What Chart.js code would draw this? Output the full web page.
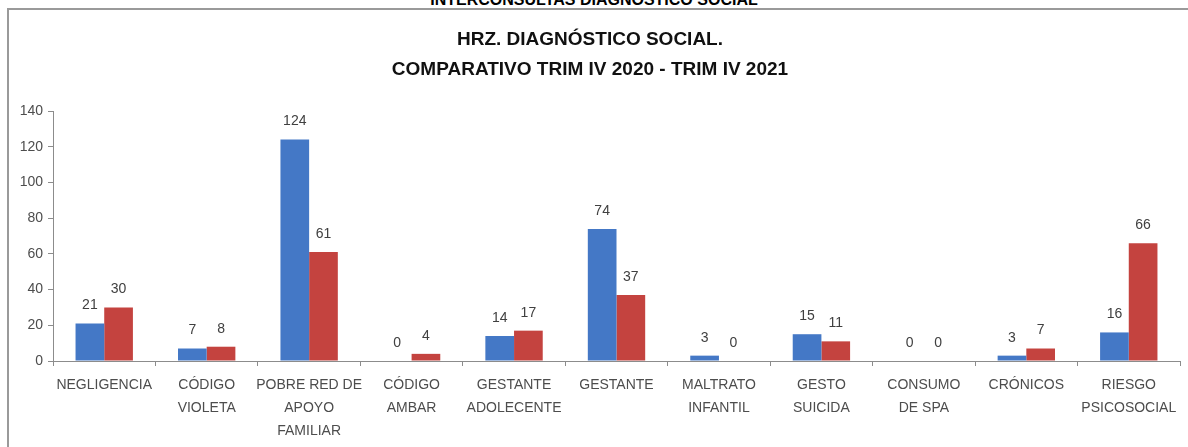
<!DOCTYPE html>
<html lang="es">
<head>
<meta charset="utf-8">
<title>HRZ. Diagnóstico Social</title>
<script src="https://cdn.jsdelivr.net/npm/chart.js@4.4.1/dist/chart.umd.min.js"></script>
<style>
  html, body { margin: 0; padding: 0; background: #fff; overflow: hidden; }
  .page { position: relative; width: 1188px; height: 447px; overflow: hidden; }
  .top-heading {
    position: absolute; left: 0; top: -8px; width: 1188px;
    text-align: center; font: bold 16px/16px "Liberation Sans", Arial, sans-serif; color: #000;
  }
  .frame {
    position: absolute; left: 7px; top: 8px; width: 1200px; height: 460px;
    border-left: 2px solid #9a9a9a; border-top: 2px solid #9a9a9a;
  }
  #diagChart { position: absolute; left: 0; top: 0; }
</style>
</head>
<body>
<div class="page">
  <div class="top-heading">INTERCONSULTAS DIAGNÓSTICO SOCIAL</div>
  <div class="frame"></div>
  <canvas id="diagChart" width="1188" height="447"></canvas>
</div>
<script>
  // categories and values per quarter
  const categorias = [
    'NEGLIGENCIA',
    ['CÓDIGO', 'VIOLETA'],
    ['POBRE RED DE', 'APOYO', 'FAMILIAR'],
    ['CÓDIGO', 'AMBAR'],
    ['GESTANTE', 'ADOLECENTE'],
    'GESTANTE',
    ['MALTRATO', 'INFANTIL'],
    ['GESTO', 'SUICIDA'],
    ['CONSUMO', 'DE SPA'],
    'CRÓNICOS',
    ['RIESGO', 'PSICOSOCIAL']
  ];
  const trim2020 = [21, 7, 124, 0, 14, 74, 3, 15, 0, 3, 16];
  const trim2021 = [30, 8, 61, 4, 17, 37, 0, 11, 0, 7, 66];
  const yTicks = [0, 20, 40, 60, 80, 100, 120, 140];

  const FONT = '"Liberation Sans", Arial, sans-serif';

  // writes the value above every bar
  const valueLabels = {
    id: 'valueLabels',
    afterDatasetsDraw(chart) {
      const ctx = chart.ctx;
      ctx.save();
      ctx.font = '14px ' + FONT;
      ctx.fillStyle = '#404040';
      ctx.textAlign = 'center';
      ctx.textBaseline = 'middle';
      chart.data.datasets.forEach((ds, i) => {
        chart.getDatasetMeta(i).data.forEach((bar, j) => {
          ctx.fillText(ds.data[j], bar.x, bar.y - 18);
        });
      });
      ctx.restore();
    }
  };

  const config = {
    type: 'bar',
    data: {
      labels: categorias,
      datasets: [
        { label: 'TRIM IV 2020', data: trim2020, backgroundColor: '#4478C6' },
        { label: 'TRIM IV 2021', data: trim2021, backgroundColor: '#C4433F' }
      ]
    },
    options: {
      responsive: false,
      animation: false,
      layout: { padding: { left: 0, right: 8, top: 0, bottom: 0 } },
      datasets: {
        bar: { categoryPercentage: 0.56, barPercentage: 1 }
      },
      plugins: {
        legend: { display: false },
        tooltip: { enabled: false },
        title: {
          display: true,
          text: ['HRZ. DIAGNÓSTICO SOCIAL.', 'COMPARATIVO TRIM IV 2020 - TRIM IV 2021'],
          color: '#111',
          font: { family: FONT, size: 19, weight: 'bold', lineHeight: 1.58 },
          padding: { top: 25, bottom: 26 }
        }
      },
      scales: {
        x: {
          grid: {
            display: true, drawOnChartArea: false, drawTicks: true,
            tickLength: 5, color: '#8c8c8c', offset: true
          },
          border: { display: true, color: '#8c8c8c', width: 1 },
          ticks: {
            color: '#4d4d4d', padding: 8, maxRotation: 0, autoSkip: false,
            font: { family: FONT, size: 14, lineHeight: 1.62 }
          },
          afterFit: (scale) => { scale.height = 86; }
        },
        y: {
          min: 0, max: 140,
          afterBuildTicks: (scale) => { scale.ticks = yTicks.map(v => ({ value: v })); },
          grid: {
            display: true, drawOnChartArea: false, drawTicks: true,
            tickLength: 5, color: '#8c8c8c'
          },
          border: { display: true, color: '#8c8c8c', width: 1 },
          ticks: {
            color: '#4d4d4d', padding: 5,
            font: { family: FONT, size: 14 }
          },
          afterFit: (scale) => { scale.width = 53; }
        }
      }
    },
    plugins: [valueLabels]
  };

  window.addEventListener('DOMContentLoaded', function () {
    const ctx = document.getElementById('diagChart').getContext('2d');
    new Chart(ctx, config);
  });
</script>
</body>
</html>
